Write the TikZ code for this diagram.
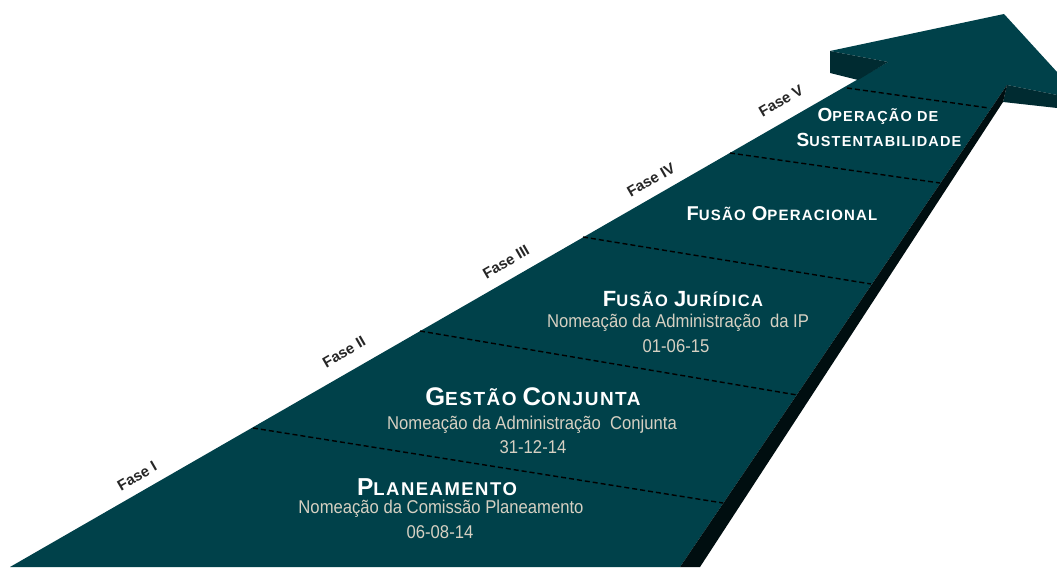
\documentclass[tikz,border=0pt]{standalone}
\usepackage{fontspec}
\setmainfont{Liberation Sans}
\newfontfamily\titlefont{Liberation Sans}[LetterSpace=8]
\newfontfamily\subfont{Liberation Sans}[FakeStretch=0.9]
\newfontfamily\fasefont{Liberation Sans}
\definecolor{arrowteal}{HTML}{00414A}
\definecolor{undersidecol}{HTML}{002B31}
\definecolor{sidecol}{HTML}{000E10}
\definecolor{subcol}{RGB}{214,208,194}
\newcommand{\scw}[4]{{\fontsize{#1}{#1}\selectfont #3}{\fontsize{#2}{#2}\selectfont #4}}
\tikzset{
  ttl/.style={text=white,inner sep=0pt,font=\titlefont\bfseries\fontsize{17}{17}\selectfont},
  subtxt/.style={text=subcol,inner sep=0pt,font=\subfont\fontsize{18.5}{18.5}\selectfont},
  faselbl/.style={text=black!85,inner sep=0pt,rotate=30,font=\fasefont\bfseries\fontsize{15}{15}\selectfont},
  sep/.style={black,line width=1.4pt,dash pattern=on 5pt off 3pt}
}
\begin{document}
\begin{tikzpicture}[x=1pt,y=-1pt]
\useasboundingbox (0,0) rectangle (1057,569);
\fill[white] (0,0) rectangle (1057,569);
% shape points
\coordinate (bl) at (10,567);
\coordinate (sl) at (888,62);
\coordinate (lb) at (830,51);
\coordinate (tip) at (1004,14);
\coordinate (re) at (1057,72);
\coordinate (rb) at (1057,95);
\coordinate (ic) at (1007,85);
\coordinate (br) at (680,567);
% top face
\fill[arrowteal] (bl) -- (sl) -- (lb) -- (tip) -- (re) -- (rb) -- (ic) -- (br) -- cycle;
% left barb underside
\fill[undersidecol] (lb) -- (sl) -- (858,80) -- (830,73) -- cycle;
% right barb underside
\fill[undersidecol] (ic) -- (rb) -- (1057,108) -- (1003,102) -- cycle;
% shaft right side
\fill[sidecol] (ic) -- (1003,102) -- (700,567) -- (br) -- cycle;
% dashed separators
\draw[sep] (253,428) -- (723,503);
\draw[sep] (420,331) -- (797,395);
\draw[sep] (583,237) -- (871,284);
\draw[sep] (730,153) -- (940,183);
\draw[sep] (847,88) -- (989,108);
% phase labels
\node[faselbl] (f1) at (137,476) {Fase I};
\node[faselbl] (f2) at (344,352) {Fase II};
\node[faselbl] (f3) at (506,262) {Fase III};
\node[faselbl] (f4) at (651,180) {Fase IV};
\node[faselbl] (f5) at (781,101) {Fase V};
% Planeamento
\node[ttl] (t1) at (437,487) {\scw{24.5}{18.5}{P}{LANEAMENTO}};
\node[subtxt] (s1) at (441,509) {Nomeação da Comissão Planeamento};
\node[subtxt] (d1) at (440,532) {06-08-14};
% Gestao
\node[ttl] (t2) at (533,397) {\scw{25.5}{19}{G}{ESTÃO} \scw{25.5}{19}{C}{ONJUNTA}};
\node[subtxt] (s2) at (532,425) {Nomeação da Administração\ \ Conjunta};
\node[subtxt] (d2) at (533,447) {31-12-14};
% Fusao Juridica
\node[ttl] (t3) at (683,299) {\scw{22}{16.5}{F}{USÃO} \scw{22}{16.5}{J}{URÍDICA}};
\node[subtxt] (s3) at (678,323) {Nomeação da Administração\ \ da IP};
\node[subtxt] (d3) at (676,346) {01-06-15};
% Fusao Operacional
\node[ttl] (t4) at (782,214) {\scw{20}{15}{F}{USÃO} \scw{20}{15}{O}{PERACIONAL}};
% Operacao
\node[ttl] (t5) at (878,116) {\scw{19}{14.5}{O}{PERAÇÃO DE}};
\node[ttl] (t6) at (879,140) {\scw{19}{14.5}{S}{USTENTABILIDADE}};
\end{tikzpicture}
\end{document}
